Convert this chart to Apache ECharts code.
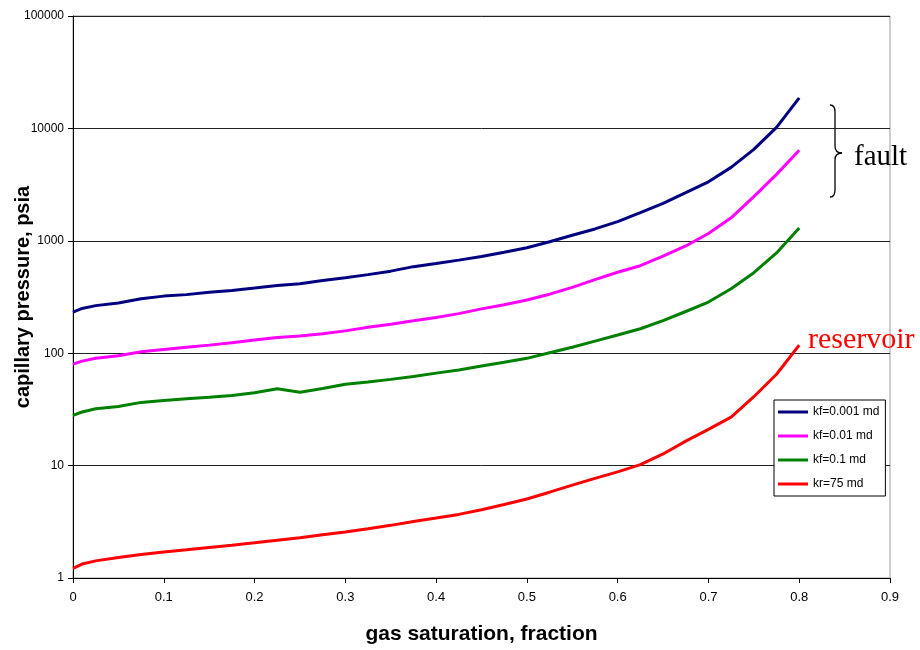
<!DOCTYPE html>
<html>
<head>
<meta charset="utf-8">
<script src="https://cdn.jsdelivr.net/npm/echarts@6/dist/echarts.min.js"></script>
<style>html,body{margin:0;padding:0;background:#fff;}#c{width:920px;height:650px;}</style>
</head>
<body>
<div id="c"></div>
<script>
const saturation = [0,0.01,0.025,0.05,0.075,0.1,0.125,0.15,0.175,0.2,0.225,0.25,0.275,0.3,0.325,0.35,0.375,0.4,0.425,0.45,0.475,0.5,0.525,0.55,0.575,0.6,0.625,0.65,0.675,0.7,0.725,0.75,0.775,0.8];
const kf0001 = [232,250,265,280,305,322,332,348,362,380,400,415,443,470,500,537,589,627,673,725,790,868,980,1120,1275,1480,1780,2150,2680,3350,4500,6500,10200,18700];
const kf001 = [80,85,90,95,103,108,113,118,124,131,138,142,149,158,170,181,194,208,225,248,270,297,335,385,452,525,600,730,900,1160,1600,2470,3900,6400];
const kf01 = [28,30,32,33.5,36.5,38,39.3,40.5,42,44.5,48.3,45,48.5,53,55.5,58.5,62,66.5,71,77,83,90,101,113,128,145,165,195,235,285,375,520,780,1300];
const kr75 = [1.22,1.33,1.42,1.52,1.62,1.70,1.78,1.87,1.96,2.06,2.17,2.28,2.42,2.57,2.74,2.94,3.18,3.42,3.68,4.05,4.5,5.05,5.8,6.7,7.7,8.8,10.2,12.7,16.5,21,27,41,65,118];
const seriesNames = ['kf=0.001 md','kf=0.01 md','kf=0.1 md','kr=75 md'];
const seriesValues = [kf0001, kf001, kf01, kr75];
const seriesColors = ['#000080','#FF00FF','#008000','#FF0000'];

const chart = echarts.init(document.getElementById('c'), null, {renderer:'canvas'});
const font = 'Arial, "Liberation Sans", sans-serif';
const serif = '"Times New Roman", "Liberation Serif", serif';
const braceStyle = {stroke:'#000',lineWidth:1.3,fill:null};
chart.setOption({
  animation:false,
  backgroundColor:'#fff',
  grid:{left:73,right:30,top:16,bottom:72,show:true,borderColor:'#999',borderWidth:1,containLabel:false,outerBoundsMode:'none'},
  xAxis:{
    type:'value',min:0,max:0.9,interval:0.1,
    name:'gas saturation, fraction',nameLocation:'middle',nameGap:46,nameMoveOverlap:false,
    nameTextStyle:{fontFamily:font,fontWeight:'bold',fontSize:21,color:'#000'},
    axisLine:{lineStyle:{color:'#000',width:1}},
    axisTick:{show:true,length:5,lineStyle:{color:'#000'}},
    axisLabel:{fontFamily:font,fontSize:13,color:'#000',margin:13,formatter:v=>String(Math.round(v*10)/10)},
    splitLine:{show:false}
  },
  yAxis:{
    type:'log',logBase:10,min:1,max:100000,
    name:'capillary pressure, psia',nameLocation:'middle',nameGap:40,nameMoveOverlap:false,
    nameTextStyle:{fontFamily:font,fontWeight:'bold',fontSize:20,color:'#000'},
    axisLine:{show:true,lineStyle:{color:'#000',width:1}},
    axisTick:{show:true,length:5,lineStyle:{color:'#000'}},
    axisLabel:{fontFamily:font,fontSize:12,color:'#000',margin:9,formatter:v=>String(Math.round(v))},
    splitLine:{show:true,lineStyle:{color:'#222',width:1}},
    minorTick:{show:false}
  },
  legend:{
    orient:'vertical',left:774,top:400,
    backgroundColor:'#fff',borderColor:'#000',borderWidth:1,
    padding:[5,6,5,4],itemWidth:30,itemHeight:3,itemGap:10,icon:'rect',
    textStyle:{fontFamily:font,fontSize:12,color:'#000',lineHeight:14},
    data:seriesNames
  },
  series:seriesNames.map((n,i)=>({
    name:n,type:'line',symbol:'none',
    lineStyle:{color:seriesColors[i],width:3},
    itemStyle:{color:seriesColors[i]},
    data:saturation.map((s,j)=>[s,seriesValues[i][j]])
  })),
  graphic:[
    {type:'bezierCurve',shape:{x1:830,y1:105,x2:835,y2:112,cpx1:835,cpy1:105},style:braceStyle},
    {type:'line',shape:{x1:835,y1:112,x2:835,y2:146},style:braceStyle},
    {type:'bezierCurve',shape:{x1:835,y1:146,x2:842,y2:153,cpx1:835,cpy1:153},style:braceStyle},
    {type:'bezierCurve',shape:{x1:842,y1:153,x2:835,y2:160,cpx1:835,cpy1:153},style:braceStyle},
    {type:'line',shape:{x1:835,y1:160,x2:835,y2:190},style:braceStyle},
    {type:'bezierCurve',shape:{x1:835,y1:190,x2:830,y2:197,cpx1:835,cpy1:197},style:braceStyle},
    {type:'text',left:854,top:143,style:{text:'fault',font:'29px '+serif,fill:'#000'}},
    {type:'text',left:808,top:325,style:{text:'reservoir',font:'30px '+serif,fill:'#FF0000'}}
  ]
});
</script>
</body>
</html>
